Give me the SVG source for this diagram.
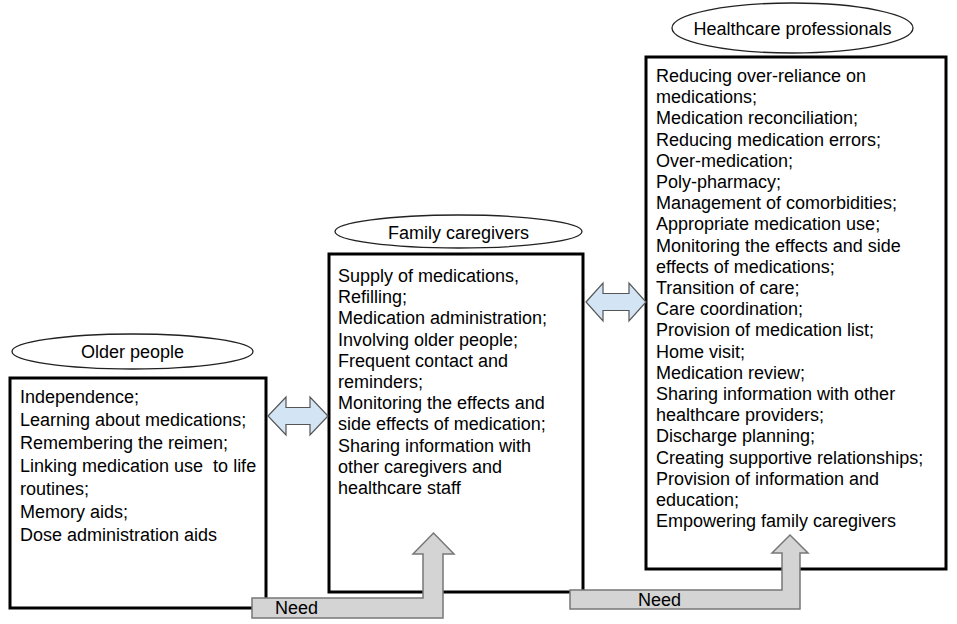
<svg xmlns="http://www.w3.org/2000/svg" width="957" height="624" viewBox="0 0 957 624">
<style>
.box{fill:#fff;stroke:#000;stroke-width:3}
.oval{fill:#fff;stroke:#222;stroke-width:1.3}
.t{font-family:"Liberation Sans",Arial,sans-serif;font-size:18px;fill:#000}
.c{text-anchor:middle}
.dbl{fill:#d3e4f4;stroke:#555;stroke-width:1.2}
.need{fill:#d4d4d4;stroke:#777;stroke-width:1.5}
</style>
<rect width="957" height="624" fill="#fff"/>
<g id="older">
<ellipse class="oval" cx="132.5" cy="351.5" rx="120.5" ry="17.5"/>
<text class="t c" x="132.5" y="358">Older people</text>
<rect class="box" x="10" y="378" width="256" height="230"/>
<text class="t" x="20" y="403">
<tspan x="20" dy="0">Independence;</tspan>
<tspan x="20" dy="23">Learning about medications;</tspan>
<tspan x="20" dy="23">Remembering the reimen;</tspan>
<tspan x="20" dy="23" xml:space="preserve">Linking medication use  to life</tspan>
<tspan x="20" dy="23">routines;</tspan>
<tspan x="20" dy="23">Memory aids;</tspan>
<tspan x="20" dy="23">Dose administration aids</tspan>
</text>
</g>
<g id="family">
<ellipse class="oval" cx="458.5" cy="231.5" rx="123.5" ry="16.5"/>
<text class="t c" x="458.5" y="239">Family caregivers</text>
<rect class="box" x="329" y="254" width="254" height="338"/>
<text class="t" x="338" y="282">
<tspan x="338" dy="0">Supply of medications,</tspan>
<tspan x="338" dy="21.2">Refilling;</tspan>
<tspan x="338" dy="21.2">Medication administration;</tspan>
<tspan x="338" dy="21.2">Involving older people;</tspan>
<tspan x="338" dy="21.2">Frequent contact and</tspan>
<tspan x="338" dy="21.2">reminders;</tspan>
<tspan x="338" dy="21.2">Monitoring the effects and</tspan>
<tspan x="338" dy="21.2">side effects of medication;</tspan>
<tspan x="338" dy="21.2">Sharing information with</tspan>
<tspan x="338" dy="21.2">other caregivers and</tspan>
<tspan x="338" dy="21.2">healthcare staff</tspan>
</text>
</g>
<g id="professionals">
<ellipse class="oval" cx="792.5" cy="28" rx="120.5" ry="25"/>
<text class="t c" x="792.5" y="35">Healthcare professionals</text>
<rect class="box" x="646" y="57" width="300" height="512"/>
<text class="t" x="656" y="82">
<tspan x="656" dy="0">Reducing over-reliance on</tspan>
<tspan x="656" dy="21.2">medications;</tspan>
<tspan x="656" dy="21.2">Medication reconciliation;</tspan>
<tspan x="656" dy="21.2">Reducing medication errors;</tspan>
<tspan x="656" dy="21.2">Over-medication;</tspan>
<tspan x="656" dy="21.2">Poly-pharmacy;</tspan>
<tspan x="656" dy="21.2">Management of comorbidities;</tspan>
<tspan x="656" dy="21.2">Appropriate medication use;</tspan>
<tspan x="656" dy="21.2">Monitoring the effects and side</tspan>
<tspan x="656" dy="21.2">effects of medications;</tspan>
<tspan x="656" dy="21.2">Transition of care;</tspan>
<tspan x="656" dy="21.2">Care coordination;</tspan>
<tspan x="656" dy="21.2">Provision of medication list;</tspan>
<tspan x="656" dy="21.2">Home visit;</tspan>
<tspan x="656" dy="21.2">Medication review;</tspan>
<tspan x="656" dy="21.2">Sharing information with other</tspan>
<tspan x="656" dy="21.2">healthcare providers;</tspan>
<tspan x="656" dy="21.2">Discharge planning;</tspan>
<tspan x="656" dy="21.2">Creating supportive relationships;</tspan>
<tspan x="656" dy="21.2">Provision of information and</tspan>
<tspan x="656" dy="21.2">education;</tspan>
<tspan x="656" dy="21.2">Empowering family caregivers</tspan>
</text>
</g>
<g id="connectors">
<path class="dbl" d="M268,416 L286,397 V407.5 H310 V397 L328,416 L310,435 V424.5 H286 V435 Z"/>
<path class="dbl" d="M586,302 L603,283 V293.5 H629 V283 L646,302 L629,321 V310.5 H603 V321 Z"/>
<path class="need" d="M252,598 H423 V554 H413 L433.5,533 L454,554 H443 V618 H252 Z"/>
<text class="t" x="275" y="614">Need</text>
<path class="need" d="M570,590 H782 V553 H772 L790,535 L808,553 H800 V609 H570 Z"/>
<text class="t" x="638" y="606">Need</text>
</g>
</svg>
